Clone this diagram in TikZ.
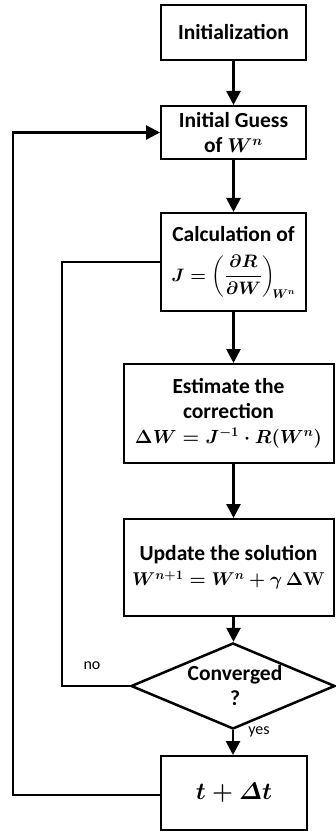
\RequirePackage{fix-cm}
\documentclass[tikz,border=0pt]{standalone}
\usepackage{amsmath,bm}
\usepackage{fontspec}
\setmainfont{Carlito}
\usetikzlibrary{shapes.geometric,arrows.meta}
\newcommand{\mathsz}[1]{\fontsize{#1}{#1}\selectfont}
\begin{document}
\begin{tikzpicture}[x=1pt,y=-1pt,
  box/.style={draw, line width=2pt, align=center, inner sep=0pt,
    font=\bfseries\fontsize{21.5}{25}\selectfont, execute at begin node=\boldmath},
  flow/.style={line width=2.7pt, -{Triangle[width=14pt,length=14pt]}},
  loopline/.style={line width=2.7pt},
  lbl/.style={font=\fontsize{16}{18}\selectfont, inner sep=0pt}
]
\useasboundingbox (0,0) rectangle (335,834);

\node[box, minimum width=145, minimum height=55] (init) at (233.5,32.5) {Initialization};
\node[box, minimum width=145, minimum height=53] (guess) at (233.5,132.5) {Initial Guess\\of {\mathsz{20}$W^{n}$}};
\node[box, minimum width=145, minimum height=98] (calc) at (233.5,262) {Calculation of\\[13pt]{\mathsz{18}$J=\displaystyle\left(\frac{\partial R}{\partial W}\right)_{\!W^{n}}$}};
\node[box, minimum width=210, minimum height=99] (est) at (228.5,413.5) {Estimate the\\correction\\{\mathsz{19}$\Delta W=J^{-1}\cdot R(W^{n})$}};
\node[box, minimum width=210, minimum height=97] (upd) at (228.5,567.5) {Update the solution\\{\mathsz{18.5}$W^{n+1}=W^{n}+\gamma\,\Delta\mathbf{W}$}};
\node[draw, diamond, line width=2.5pt, shape aspect=2.4, inner sep=0pt, minimum width=204, minimum height=86] (conv) at (233,686) {};
\node[font=\bfseries\fontsize{21.5}{25}\selectfont, align=center, inner sep=0pt] (convtxt) at (235,686) {Converged\\?};
\node[box, minimum width=146, minimum height=74] (tstep) at (234,793) {\mathsz{24}$t+\varDelta t$};

\draw[flow] (init.south) -- (guess.north);
\draw[flow] (guess.south) -- (calc.north);
\draw[flow] (calc.south) -- (calc.south |- est.north);
\draw[flow] (calc.south |- est.south) -- (calc.south |- upd.north);
\draw[flow] (calc.south |- upd.south) -- (calc.south |- conv.north);
\draw[flow] (conv.south) -- (conv.south |- tstep.north);

\coordinate (noturn) at (62,686);
\draw[loopline] (conv.west) -- (noturn) |- (calc.west);
\coordinate (outturn) at (13,795);
\draw[flow] (tstep.west |- outturn) -- (outturn) |- (guess.west);

\node[lbl] (nolbl) at (92,666) {no};
\node[lbl] (yeslbl) at (259,732) {yes};
\end{tikzpicture}
\end{document}
